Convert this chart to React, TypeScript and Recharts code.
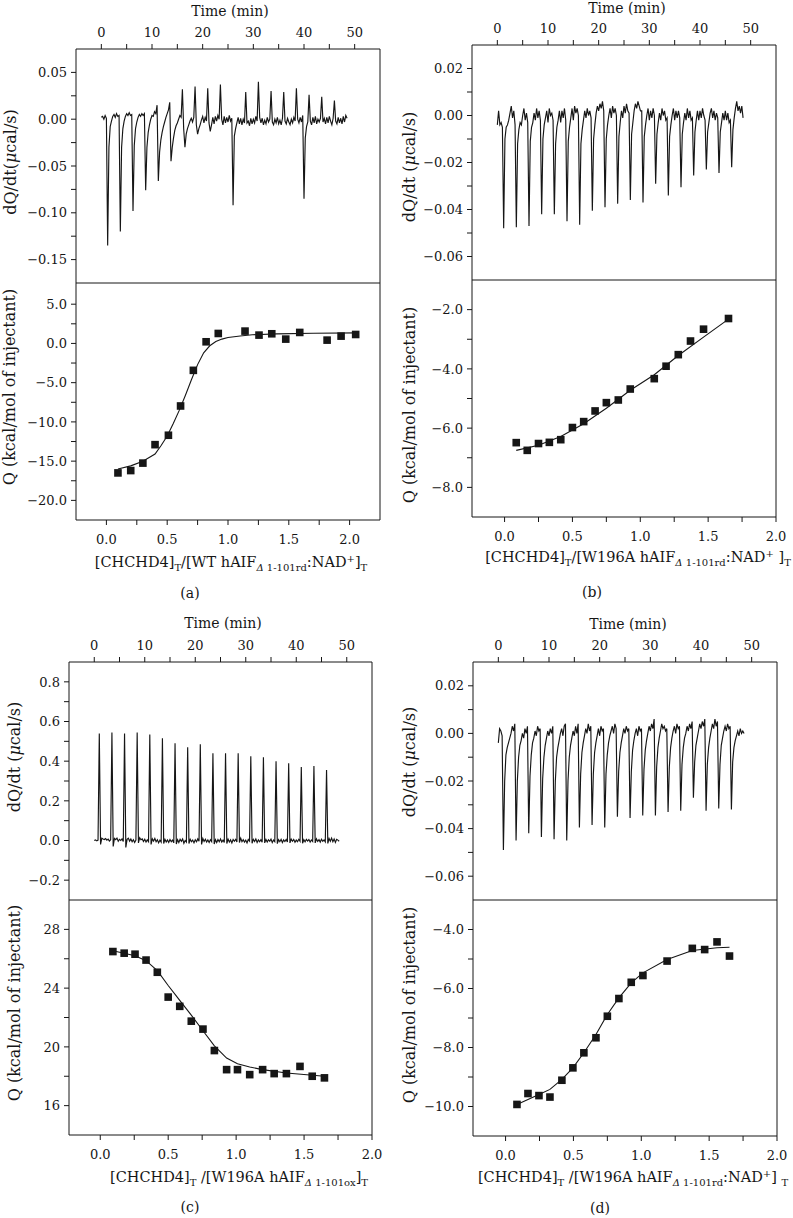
import React from 'react'
import { LineChart, Line, XAxis, YAxis, ScatterChart, Scatter } from 'recharts'

const FONT = '"DejaVu Serif", "Liberation Serif", serif'
const INK = '#161616'
const STEP = 0.25 // minutes between raw trace samples, trace starts at t = 0

// shared ticks
const timeMajor = [0, 10, 20, 30, 40, 50]
const timeMinor = [5, 15, 25, 35, 45]
const ratioMajor = [0, 0.5, 1, 1.5, 2]
const ratioMinor = [0.25, 0.75, 1.25, 1.75]

// (a) raw heat trace, one row per injection (first row = lead-in, last = tail)
const traceA = [
  [0.002, 0.003, 0.0, 0.004],
  [0.001, -0.135, -0.03, -0.008, -0.002, 0.003, 0.005, 0.002, 0.006, 0.003],
  [0.004, -0.12, -0.03, -0.01, -0.002, 0.003, 0.006, 0.004, 0.007, 0.004],
  [0.005, -0.098, -0.028, -0.01, -0.003, 0.002, 0.005, 0.003, 0.006, 0.004],
  [0.006, -0.076, -0.03, -0.014, -0.006, 0.0, 0.004, 0.003, 0.008, 0.006],
  [0.015, -0.066, -0.035, -0.022, -0.014, -0.008, -0.003, 0.002, 0.006, 0.01],
  [0.018, -0.045, -0.03, -0.02, -0.012, -0.007, -0.004, 0.0, 0.004, 0.002],
  [0.032, -0.01, -0.03, -0.016, -0.01, -0.006, -0.002, 0.001, -0.003, 0.002],
  [0.035, -0.006, -0.016, -0.01, -0.006, -0.001, 0.003, -0.004, 0.002, -0.002],
  [0.033, -0.004, -0.013, -0.006, 0.002, -0.005, 0.003, -0.002, 0.004, 0.0],
  [0.037, 0.0, -0.006, 0.003, -0.004, 0.002, -0.003, 0.004, -0.002, 0.001],
  [-0.092, -0.018, -0.01, -0.004, 0.002, -0.005, 0.001, -0.006, 0.0, -0.004],
  [0.029, -0.004, -0.002, -0.007, 0.001, -0.005, 0.0, -0.004, 0.003, -0.002],
  [0.04, 0.002, -0.004, 0.001, -0.006, -0.001, -0.005, 0.002, -0.003, 0.0],
  [0.03, -0.003, -0.006, 0.0, -0.004, 0.002, -0.005, -0.001, -0.006, 0.001],
  [0.029, -0.002, -0.005, 0.001, -0.003, -0.006, 0.0, -0.004, 0.002, -0.002],
  [0.033, 0.0, -0.004, 0.002, -0.003, 0.004, -0.085, -0.02, -0.008, -0.003],
  [0.026, -0.002, -0.006, 0.002, -0.004, 0.003, -0.005, 0.0, -0.003, 0.001],
  [0.024, -0.003, 0.001, -0.005, 0.002, -0.004, 0.003, -0.002, -0.006, 0.001],
  [0.02, -0.002, -0.005, 0.002, -0.004, 0.001, -0.005, 0.003, -0.003, 0.004],
  [0.001],
]

const traceB = [
  [-0.004, 0.002, -0.004, -0.003],
  [-0.005, -0.048, -0.01, -0.005, -0.004, -0.002, 0.001, 0.004, -0.001, 0.002],
  [-0.004, -0.0475, -0.012, -0.006, -0.003, -0.004, 0.0, 0.003, -0.002, 0.001],
  [-0.003, -0.047, -0.011, -0.005, -0.003, 0.001, -0.002, 0.003, -0.001, 0.002],
  [-0.002, -0.042, -0.01, -0.004, -0.001, 0.002, -0.003, 0.003, 0.0, 0.001],
  [-0.002, -0.042, -0.012, -0.005, -0.002, 0.002, -0.003, 0.002, -0.001, 0.003],
  [-0.002, -0.045, -0.011, -0.005, -0.001, 0.003, -0.002, 0.004, 0.001, 0.003],
  [0.0, -0.0465, -0.012, -0.006, -0.002, 0.002, -0.001, 0.003, 0.0, 0.002],
  [-0.001, -0.0405, -0.01, -0.004, 0.001, 0.004, 0.002, 0.005, 0.003, 0.006],
  [0.002, -0.039, -0.01, -0.004, 0.0, 0.003, -0.001, 0.004, 0.001, 0.003],
  [0.0, -0.0375, -0.009, -0.003, 0.002, -0.001, 0.004, 0.001, 0.005, 0.002],
  [0.001, -0.036, -0.008, -0.003, 0.002, 0.005, 0.003, 0.006, 0.004, 0.002],
  [0.002, -0.037, -0.009, -0.004, 0.0, 0.003, -0.002, 0.002, -0.001, 0.003],
  [0.0, -0.029, -0.008, -0.003, 0.001, -0.002, 0.003, 0.0, 0.002, -0.002],
  [-0.001, -0.034, -0.009, -0.004, 0.0, 0.003, -0.002, 0.002, -0.001, 0.002],
  [-0.001, -0.0305, -0.008, -0.003, 0.001, -0.002, 0.003, -0.001, 0.002, -0.002],
  [-0.001, -0.0255, -0.007, -0.002, 0.002, -0.002, 0.002, -0.001, 0.003, 0.0],
  [-0.002, -0.023, -0.007, -0.003, 0.001, 0.003, -0.001, 0.002, -0.002, 0.001],
  [-0.001, -0.0245, -0.007, -0.003, 0.001, -0.002, 0.002, -0.002, 0.001, -0.003],
  [-0.002, -0.022, -0.006, -0.001, 0.003, 0.006, 0.002, 0.004, 0.001, 0.004],
  [-0.001],
]

const traceC = [
  [0.0, 0.003, -0.002, 0.002],
  [0.54, -0.02, 0.012, 0.008, 0.005, 0.01, 0.002, 0.007, -0.003, 0.004],
  [0.545, -0.03, 0.01, 0.004, 0.012, -0.004, 0.006, 0.0, 0.008, -0.005],
  [0.54, -0.035, 0.006, 0.012, -0.003, 0.008, -0.006, 0.004, -0.01, 0.002],
  [0.545, -0.012, 0.014, 0.004, 0.008, -0.005, 0.006, -0.008, 0.003, -0.006],
  [0.535, -0.02, 0.008, -0.003, 0.01, -0.006, 0.004, -0.012, 0.002, -0.008],
  [0.515, -0.015, 0.006, -0.008, 0.003, -0.01, 0.005, -0.006, 0.002, -0.012],
  [0.49, -0.018, 0.004, -0.01, 0.006, -0.004, 0.008, -0.014, 0.0, -0.008],
  [0.47, -0.015, 0.006, -0.006, 0.002, -0.012, 0.004, -0.006, 0.008, -0.004],
  [0.485, -0.02, 0.01, -0.005, 0.006, -0.008, 0.003, -0.01, 0.004, -0.006],
  [0.44, -0.018, 0.004, -0.01, 0.005, -0.006, 0.008, -0.008, 0.002, -0.01],
  [0.44, -0.015, 0.007, -0.008, 0.003, -0.012, 0.005, -0.004, 0.006, -0.007],
  [0.44, -0.01, 0.012, -0.006, 0.004, -0.008, 0.002, -0.012, 0.005, -0.003],
  [0.425, -0.014, 0.006, -0.005, 0.008, -0.01, 0.003, -0.006, 0.004, -0.009],
  [0.42, -0.012, 0.005, -0.008, 0.004, -0.004, 0.007, -0.01, 0.002, -0.006],
  [0.4, -0.016, 0.004, -0.006, 0.006, -0.01, 0.003, -0.005, 0.005, -0.008],
  [0.39, -0.012, 0.007, -0.004, 0.005, -0.009, 0.002, -0.006, 0.006, -0.004],
  [0.37, -0.014, 0.004, -0.007, 0.006, -0.003, 0.005, -0.008, 0.003, -0.005],
  [0.375, -0.012, 0.008, -0.005, 0.004, -0.008, 0.006, -0.004, 0.003, -0.007],
  [0.355, -0.015, 0.01, -0.004, 0.012, -0.006, 0.008, -0.01, 0.006, 0.002],
  [-0.004],
]

const traceD = [
  [-0.004, 0.002, 0.001, -0.001],
  [-0.049, -0.02, -0.009, -0.006, -0.004, -0.002, 0.0, 0.003, 0.001, 0.004],
  [-0.045, -0.02, -0.01, -0.005, -0.003, 0.0, -0.002, 0.002, 0.0, 0.003],
  [-0.042, -0.018, -0.009, -0.004, -0.002, 0.001, -0.001, 0.003, 0.001, 0.002],
  [-0.0435, -0.019, -0.01, -0.005, -0.002, 0.001, -0.001, 0.002, 0.0, 0.003],
  [-0.0445, -0.02, -0.01, -0.006, -0.003, 0.0, 0.002, -0.001, 0.003, 0.004],
  [-0.045, -0.02, -0.01, -0.005, -0.002, 0.001, -0.001, 0.003, 0.0, 0.004],
  [-0.0395, -0.017, -0.008, -0.004, -0.001, 0.002, 0.0, 0.004, 0.001, 0.003],
  [-0.0385, -0.017, -0.008, -0.004, -0.001, 0.002, -0.001, 0.003, 0.001, 0.002],
  [-0.0395, -0.017, -0.009, -0.004, -0.001, 0.001, 0.003, 0.0, 0.004, 0.002],
  [-0.035, -0.016, -0.008, -0.004, -0.001, 0.002, 0.0, 0.003, 0.001, 0.002],
  [-0.0355, -0.016, -0.007, -0.003, 0.0, 0.002, -0.001, 0.003, 0.001, 0.002],
  [-0.0345, -0.015, -0.007, -0.003, 0.0, 0.003, 0.001, 0.004, 0.002, 0.006],
  [-0.0345, -0.014, -0.006, -0.002, 0.001, 0.004, 0.002, 0.003, 0.001, 0.002],
  [-0.033, -0.014, -0.006, -0.002, 0.001, 0.003, 0.0, 0.004, 0.002, 0.003],
  [-0.0325, -0.013, -0.006, -0.002, 0.0, 0.003, 0.001, 0.004, 0.002, 0.005],
  [-0.027, -0.012, -0.005, -0.002, 0.001, 0.004, 0.002, 0.005, 0.003, 0.006],
  [-0.0325, -0.013, -0.006, -0.002, 0.001, 0.004, 0.002, 0.006, 0.003, 0.005],
  [-0.0315, -0.013, -0.005, -0.002, 0.001, 0.003, 0.001, 0.004, 0.002, 0.003],
  [-0.032, -0.012, -0.006, -0.003, -0.001, 0.001, -0.001, 0.002, 0.0, 0.001],
  [0.0],
]

// integrated heats (kcal/mol of injectant) vs molar ratio
const ratioA = [0.095, 0.2, 0.3, 0.4, 0.51, 0.61, 0.715, 0.82, 0.92, 1.14, 1.255, 1.36, 1.475, 1.59, 1.815, 1.93, 2.05]
const heatA = [-16.5, -16.2, -15.25, -12.9, -11.7, -7.97, -3.43, 0.21, 1.27, 1.57, 1.06, 1.23, 0.55, 1.4, 0.42, 0.93, 1.14]
const fitRatioA = [0.095, 0.2, 0.3, 0.4, 0.45, 0.5, 0.55, 0.6, 0.65, 0.7, 0.75, 0.8, 0.85, 0.9, 0.95, 1.0, 1.1, 1.2, 1.4, 1.7, 2.07]
const fitHeatA = [-16.0, -15.6, -15.0, -14.1, -13.0, -11.8, -10.2, -8.5, -6.6, -4.6, -2.7, -1.2, -0.3, 0.25, 0.55, 0.75, 0.95, 1.1, 1.22, 1.3, 1.35]

const ratioB = [0.086, 0.167, 0.25, 0.33, 0.414, 0.5, 0.583, 0.667, 0.75, 0.838, 0.926, 1.103, 1.19, 1.28, 1.37, 1.466, 1.65]
const heatB = [-6.49, -6.75, -6.52, -6.48, -6.39, -5.98, -5.78, -5.42, -5.14, -5.05, -4.68, -4.33, -3.91, -3.52, -3.06, -2.66, -2.3]
const fitRatioB = [0.086, 0.25, 0.414, 0.583, 0.75, 0.926, 1.103, 1.28, 1.466, 1.65]
const fitHeatB = [-6.75, -6.58, -6.28, -5.85, -5.33, -4.72, -4.2, -3.55, -2.93, -2.32]

const ratioC = [0.093, 0.176, 0.256, 0.337, 0.42, 0.5, 0.585, 0.67, 0.756, 0.84, 0.93, 1.01, 1.1, 1.195, 1.28, 1.37, 1.47, 1.56, 1.65]
const heatC = [26.49, 26.38, 26.31, 25.91, 25.08, 23.39, 22.76, 21.75, 21.21, 19.75, 18.45, 18.45, 18.11, 18.45, 18.18, 18.18, 18.67, 18.0, 17.89]
const fitRatioC = [0.093, 0.256, 0.337, 0.42, 0.5, 0.585, 0.67, 0.756, 0.84, 0.93, 1.01, 1.1, 1.195, 1.37, 1.65]
const fitHeatC = [26.54, 26.2, 25.87, 25.19, 24.18, 23.17, 22.16, 21.1, 20.07, 19.24, 18.85, 18.63, 18.45, 18.22, 18.0]

const ratioD = [0.084, 0.165, 0.246, 0.327, 0.415, 0.496, 0.577, 0.666, 0.75, 0.835, 0.926, 1.012, 1.19, 1.376, 1.467, 1.558, 1.65]
const heatD = [-9.93, -9.56, -9.63, -9.68, -9.11, -8.69, -8.18, -7.67, -6.94, -6.34, -5.79, -5.56, -5.07, -4.64, -4.68, -4.42, -4.9]
const fitRatioD = [0.084, 0.246, 0.327, 0.415, 0.496, 0.577, 0.666, 0.75, 0.835, 0.926, 1.012, 1.19, 1.376, 1.558, 1.65]
const fitHeatD = [-9.93, -9.59, -9.42, -9.08, -8.69, -8.18, -7.56, -6.88, -6.32, -5.81, -5.47, -5.02, -4.71, -4.62, -4.6]

// y ticks
const rateMajorA = [-0.15, -0.1, -0.05, 0, 0.05]
const rateMinorA = [-0.125, -0.075, -0.025, 0.025]
const rateMajorBD = [-0.06, -0.04, -0.02, 0, 0.02]
const rateMinorBD = [-0.05, -0.03, -0.01, 0.01]
const rateMajorC = [-0.2, 0, 0.2, 0.4, 0.6, 0.8]
const rateMinorC = [-0.1, 0.1, 0.3, 0.5, 0.7]
const heatMajorA = [-20, -15, -10, -5, 0, 5]
const heatMinorA = [-17.5, -12.5, -7.5, -2.5, 2.5]
const heatMajorB = [-8, -6, -4, -2]
const heatMinorB = [-7, -5, -3]
const heatMajorC = [16, 20, 24, 28]
const heatMinorC = [18, 22, 26]
const heatMajorD = [-10, -8, -6, -4]
const heatMinorD = [-9, -7, -5]

const timeDomain: [number, number] = [-5, 55]

const merge = (a: number[], b: number[]) => [...a, ...b].sort((p, q) => p - q)
const near = (list: number[], v: number) => list.some(m => Math.abs(m - v) < 1e-9)
const fmt = (v: number, d: number) => v.toFixed(d).replace('-', '\u2212')
const pts = (xs: number[], ys: number[]) => xs.map((x, i) => ({ x, y: ys[i] }))

function tickLabel(major: number[], digits: number, side: 'left' | 'top' | 'bottom') {
  return (p: any) => {
    const v = Number(p.payload.value)
    if (!near(major, v)) return <g />
    const common = { fill: INK, fontSize: 13, fontFamily: FONT }
    if (side === 'left')
      return <text x={p.x - 2} y={p.y} dy="0.36em" textAnchor="end" {...common}>{fmt(v, digits)}</text>
    if (side === 'top')
      return <text x={p.x} y={p.y - 5.5} textAnchor="middle" {...common}>{fmt(v, digits)}</text>
    return <text x={p.x} y={p.y + 16.5} textAnchor="middle" {...common}>{fmt(v, digits)}</text>
  }
}

const YW = 60
const RM = 20

function Thermo(props: any) {
  const { x0, x1, y0, y1, rows, yDomain, yMajor, yMinor, digits } = props
  const data = (rows as number[][]).flat().map((v, i) => ({ t: i * STEP, v }))
  const XH = 30
  const w = x1 - x0
  const h = y1 - y0
  return (
    <div style={{ position: 'absolute', left: x0 - YW, top: y0 - XH }}>
      <LineChart width={YW + w + 1 + RM} height={XH + h + 1} data={data} margin={{ top: 0, right: RM, bottom: 0, left: 0 }}>
        <XAxis xAxisId="t" dataKey="t" type="number" orientation="top" domain={timeDomain} allowDataOverflow
          ticks={merge(timeMajor, timeMinor)} interval={0} height={XH} tickSize={5} stroke={INK}
          tick={tickLabel(timeMajor, 0, 'top')} />
        <XAxis xAxisId="edge" type="number" orientation="bottom" domain={timeDomain} allowDataOverflow
          height={1} tick={false} tickLine={false} stroke={INK} />
        <YAxis yAxisId="v" type="number" domain={yDomain} allowDataOverflow ticks={merge(yMajor, yMinor)}
          interval={0} width={YW} tickSize={5} stroke={INK} tick={tickLabel(yMajor, digits, 'left')} />
        <YAxis yAxisId="edge" type="number" orientation="right" domain={yDomain} allowDataOverflow
          width={1} tick={false} tickLine={false} stroke={INK} />
        <Line xAxisId="t" yAxisId="v" dataKey="v" type="linear" stroke={INK} strokeWidth={1.15}
          dot={false} isAnimationActive={false} />
      </LineChart>
    </div>
  )
}

const square = (p: any) => <rect x={p.cx - 3.8} y={p.cy - 3.8} width={7.6} height={7.6} fill={INK} />

function Iso(props: any) {
  const { x0, x1, y0, y1, xDomain, yDomain, yMajor, yMinor, digits, points, fit } = props
  const XH = 40
  const w = x1 - x0
  const h = y1 - y0
  return (
    <div style={{ position: 'absolute', left: x0 - YW, top: y0 }}>
      <ScatterChart width={YW + w + 1 + RM} height={h + XH} margin={{ top: 0, right: RM, bottom: 0, left: 0 }}>
        <XAxis dataKey="x" type="number" domain={xDomain} allowDataOverflow ticks={merge(ratioMajor, ratioMinor)}
          interval={0} height={XH} tickSize={5} stroke={INK} tick={tickLabel(ratioMajor, 1, 'bottom')} />
        <YAxis yAxisId="q" dataKey="y" type="number" domain={yDomain} allowDataOverflow ticks={merge(yMajor, yMinor)}
          interval={0} width={YW} tickSize={5} stroke={INK} tick={tickLabel(yMajor, digits, 'left')} />
        <YAxis yAxisId="edge" type="number" orientation="right" domain={yDomain} allowDataOverflow
          width={1} tick={false} tickLine={false} stroke={INK} />
        <Scatter yAxisId="q" data={fit} fill={INK} line={{ stroke: INK, strokeWidth: 1.1 }} shape={() => <g />}
          isAnimationActive={false} />
        <Scatter yAxisId="q" data={points} fill={INK} shape={square} isAnimationActive={false} />
      </ScatterChart>
    </div>
  )
}

function Txt({ x, y, size = 14, rotate = false, children }: any) {
  return (
    <div style={{
      position: 'absolute', left: x, top: y, whiteSpace: 'nowrap', fontSize: size, lineHeight: 1,
      color: INK, fontFamily: FONT,
      transform: `translate(-50%, -50%)${rotate ? ' rotate(-90deg)' : ''}`,
    }}>{children}</div>
  )
}

const subStyle = { fontSize: 10, verticalAlign: '-0.38em', lineHeight: 0 }
const sub = (s: any) => <sub style={subStyle}>{s}</sub>
const sup = (s: string) => <sup style={{ fontSize: 10, verticalAlign: '0.45em', lineHeight: 0 }}>{s}</sup>
const dsub = (s: string) => sub(<><i>Δ</i> {s}</>)
const rateTitle = (gap: boolean) => <>dQ/dt{gap ? ' ' : ''}(<i>μ</i>cal/s)</>
const heatTitle = 'Q (kcal/mol of injectant)'

export default function App() {
  return (
    <div style={{ position: 'absolute', left: 0, top: 0, width: 793, height: 1218, background: '#fff', overflow: 'hidden' }}>
      {/* (a) */}
      <Thermo x0={76} x1={380} y0={49} y1={283} rows={traceA} yDomain={[-0.175, 0.075]}
        yMajor={rateMajorA} yMinor={rateMinorA} digits={2} />
      <Iso x0={76} x1={380} y0={283} y1={520} xDomain={[-0.25, 2.25]} yDomain={[-22.5, 7.7]}
        yMajor={heatMajorA} yMinor={heatMinorA} digits={1}
        points={pts(ratioA, heatA)} fit={pts(fitRatioA, fitHeatA)} />
      <Txt x={230} y={11}>Time (min)</Txt>
      <Txt x={11} y={162} size={16} rotate>{rateTitle(false)}</Txt>
      <Txt x={10} y={387} size={16} rotate>{heatTitle}</Txt>
      <Txt x={231} y={562} size={14.5}>[CHCHD4]{sub('T')}/[WT hAIF{dsub('1-101rd')}:NAD{sup('+')}]{sub('T')}</Txt>
      <Txt x={190} y={593}>(a)</Txt>

      {/* (b) */}
      <Thermo x0={472} x1={776} y0={45} y1={280} rows={traceB} yDomain={[-0.07, 0.03]}
        yMajor={rateMajorBD} yMinor={rateMinorBD} digits={2} />
      <Iso x0={472} x1={776} y0={280} y1={517} xDomain={[-0.24, 2.0]} yDomain={[-9, -1]}
        yMajor={heatMajorB} yMinor={heatMinorB} digits={1}
        points={pts(ratioB, heatB)} fit={pts(fitRatioB, fitHeatB)} />
      <Txt x={627} y={8}>Time (min)</Txt>
      <Txt x={410} y={167} size={16} rotate>{rateTitle(true)}</Txt>
      <Txt x={410} y={405} size={16} rotate>{heatTitle}</Txt>
      <Txt x={638} y={557} size={14.5}>[CHCHD4]{sub('T')}/[W196A hAIF{dsub('1-101rd')}:NAD{sup('+')} ]{sub('T')}</Txt>
      <Txt x={592} y={592}>(b)</Txt>

      {/* (c) */}
      <Thermo x0={69} x1={372} y0={662} y1={900} rows={traceC} yDomain={[-0.3, 0.9]}
        yMajor={rateMajorC} yMinor={rateMinorC} digits={1} />
      <Iso x0={69} x1={372} y0={900} y1={1135} xDomain={[-0.23, 2.0]} yDomain={[14, 30]}
        yMajor={heatMajorC} yMinor={heatMinorC} digits={0}
        points={pts(ratioC, heatC)} fit={pts(fitRatioC, fitHeatC)} />
      <Txt x={223} y={623}>Time (min)</Txt>
      <Txt x={15} y={757} size={16} rotate>{rateTitle(true)}</Txt>
      <Txt x={15} y={1003} size={16} rotate>{heatTitle}</Txt>
      <Txt x={239} y={1177} size={14.5}>[CHCHD4]{sub('T')} /[W196A hAIF{dsub('1-101ox')}]{sub('T')}</Txt>
      <Txt x={190} y={1207}>(c)</Txt>

      {/* (d) */}
      <Thermo x0={473} x1={777} y0={662} y1={900} rows={traceD} yDomain={[-0.07, 0.03]}
        yMajor={rateMajorBD} yMinor={rateMinorBD} digits={2} />
      <Iso x0={473} x1={777} y0={900} y1={1136} xDomain={[-0.24, 2.0]} yDomain={[-11, -3]}
        yMajor={heatMajorD} yMinor={heatMinorD} digits={1}
        points={pts(ratioD, heatD)} fit={pts(fitRatioD, fitHeatD)} />
      <Txt x={628} y={624}>Time (min)</Txt>
      <Txt x={410} y={762} size={16} rotate>{rateTitle(true)}</Txt>
      <Txt x={410} y={1005} size={16} rotate>{heatTitle}</Txt>
      <Txt x={633} y={1177} size={14.5}>[CHCHD4]{sub('T')} /[W196A hAIF{dsub('1-101rd')}:NAD{sup('+')}] {sub('T')}</Txt>
      <Txt x={600} y={1208}>(d)</Txt>
    </div>
  )
}
